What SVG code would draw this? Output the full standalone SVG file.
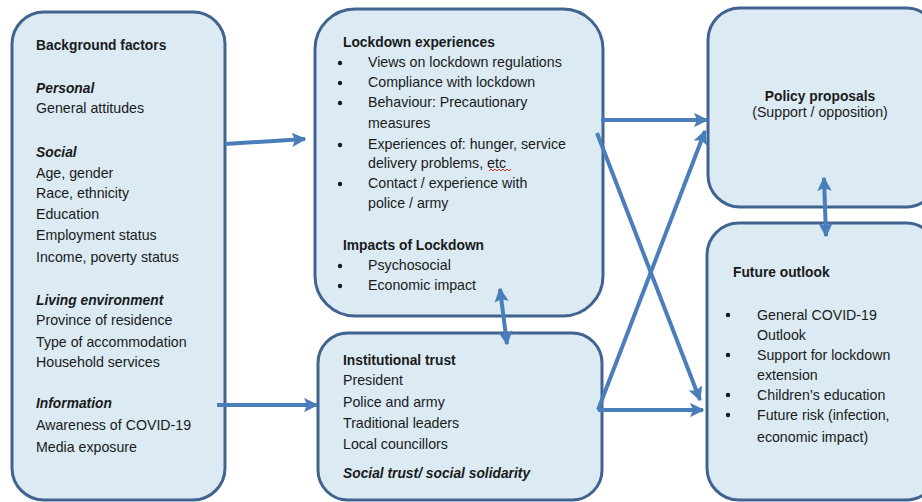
<svg xmlns="http://www.w3.org/2000/svg" width="922" height="502" viewBox="0 0 922 502">
<style>
.box{fill:#dbeaf3;stroke:#41638f;stroke-width:3}
text{font-family:"Liberation Sans",Arial,sans-serif;font-size:14.2px;fill:#1a1a1a}
.b{font-weight:bold;font-size:13.8px}
.bi{font-weight:bold;font-style:italic;font-size:13.8px}
.c{text-anchor:middle}
.con{stroke:#4a7ebb;stroke-width:4;fill:none}
.dot{fill:#1a1a1a}
</style>
<defs>
<marker id="ah" viewBox="0 0 10 10" refX="9" refY="5" markerWidth="3.6" markerHeight="3.6" orient="auto-start-reverse" markerUnits="strokeWidth">
<path d="M0,0 L10,5 L0,10 L2,5 z" fill="#4a7ebb"/>
</marker>
</defs>
<rect width="922" height="502" fill="#ffffff"/>
<g id="background">
<rect class="box" x="12" y="12" width="213" height="488" rx="32"/>
<text class="b" x="36" y="50">Background factors</text>
<text class="bi" x="36" y="93">Personal</text>
<text x="36" y="113">General attitudes</text>
<text class="bi" x="36" y="157">Social</text>
<text x="36" y="178">Age, gender</text>
<text x="36" y="198">Race, ethnicity</text>
<text x="36" y="219">Education</text>
<text x="36" y="240">Employment status</text>
<text x="36" y="262">Income, poverty status</text>
<text class="bi" x="36" y="305">Living environment</text>
<text x="36" y="325">Province of residence</text>
<text x="36" y="347">Type of accommodation</text>
<text x="36" y="367">Household services</text>
<text class="bi" x="36" y="408">Information</text>
<text x="36" y="430">Awareness of COVID-19</text>
<text x="36" y="452">Media exposure</text>
</g>
<g id="lockdown">
<rect class="box" x="315" y="9" width="288" height="307" rx="40"/>
<text class="b" x="343" y="47">Lockdown experiences</text>
<circle class="dot" cx="340" cy="63" r="2.2"/>
<circle class="dot" cx="340" cy="83" r="2.2"/>
<circle class="dot" cx="340" cy="103" r="2.2"/>
<circle class="dot" cx="340" cy="145" r="2.2"/>
<circle class="dot" cx="340" cy="184" r="2.2"/>
<circle class="dot" cx="340" cy="266" r="2.2"/>
<circle class="dot" cx="340" cy="286" r="2.2"/>
<text x="368" y="67">Views on lockdown regulations</text>
<text x="368" y="87">Compliance with lockdown</text>
<text x="368" y="107">Behaviour: Precautionary</text>
<text x="368" y="128">measures</text>
<text x="368" y="149">Experiences of: hunger, service</text>
<text x="368" y="168">delivery problems, etc</text>
<path d="M489,171 l2,-2 l2,2 l2,-2 l2,2 l2,-2 l2,2 l2,-2 l2,2 l2,-2 l2,2 l2,-2" stroke="#e03030" stroke-width="1" fill="none"/>
<text x="368" y="188">Contact / experience with</text>
<text x="368" y="208">police / army</text>
<text class="b" x="343" y="250">Impacts of Lockdown</text>
<text x="368" y="270">Psychosocial</text>
<text x="368" y="290">Economic impact</text>
</g>
<g id="trust">
<rect class="box" x="318" y="333" width="284" height="167" rx="30"/>
<text class="b" x="343" y="365">Institutional trust</text>
<text x="343" y="385">President</text>
<text x="343" y="407">Police and army</text>
<text x="343" y="428">Traditional leaders</text>
<text x="343" y="449">Local councillors</text>
<text class="bi" x="343" y="478">Social trust/ social solidarity</text>
</g>
<g id="policy">
<rect class="box" x="708" y="8" width="230" height="199" rx="32"/>
<text class="b c" x="820" y="101">Policy proposals</text>
<text class="c" x="820" y="117">(Support / opposition)</text>
</g>
<g id="future">
<rect class="box" x="707" y="223" width="231" height="277" rx="32"/>
<text class="b" x="733" y="277">Future outlook</text>
<circle class="dot" cx="728" cy="315" r="2.2"/>
<circle class="dot" cx="728" cy="355" r="2.2"/>
<circle class="dot" cx="728" cy="395" r="2.2"/>
<circle class="dot" cx="728" cy="415" r="2.2"/>
<text x="757" y="320">General COVID-19</text>
<text x="757" y="340">Outlook</text>
<text x="757" y="360">Support for lockdown</text>
<text x="757" y="380">extension</text>
<text x="757" y="400">Children’s education</text>
<text x="757" y="420">Future risk (infection,</text>
<text x="757" y="442">economic impact)</text>
</g>
<g id="connectors">
<line class="con" x1="225" y1="144" x2="305" y2="139" marker-end="url(#ah)"/>
<line class="con" x1="217" y1="405" x2="317" y2="405" marker-end="url(#ah)"/>
<line class="con" x1="500" y1="289" x2="507" y2="344" marker-start="url(#ah)" marker-end="url(#ah)"/>
<line class="con" x1="601" y1="120" x2="707" y2="120" marker-end="url(#ah)"/>
<line class="con" x1="597" y1="133" x2="700" y2="400" marker-end="url(#ah)"/>
<line class="con" x1="598" y1="410" x2="705" y2="131" marker-end="url(#ah)"/>
<line class="con" x1="598" y1="410" x2="703" y2="410" marker-end="url(#ah)"/>
<line class="con" x1="824" y1="178" x2="826" y2="236" marker-start="url(#ah)" marker-end="url(#ah)"/>
</g>
</svg>
